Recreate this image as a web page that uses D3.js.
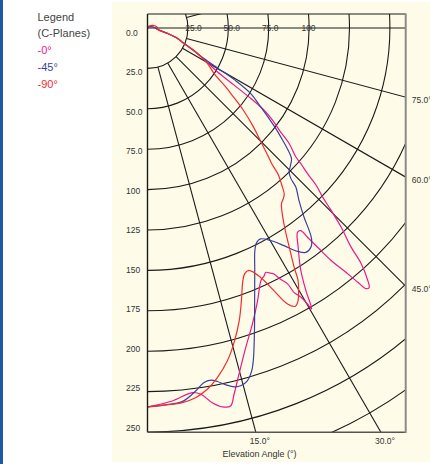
<!DOCTYPE html>
<meta charset="utf-8">
<style>
html, body {
  margin: 0;
  background: #fff;
}

.chart {
  display: block;
  font-family: "Liberation Sans", Arial, sans-serif;
}

.chart .grid circle,
.chart .grid line {
  fill: none;
  stroke: #1a1a1a;
  stroke-width: 1.1;
}

.chart .tick-label {
  font-size: 8.5px;
  fill: #333;
}

.chart .legend text {
  font-size: 11px;
}

.chart .curve {
  fill: none;
  stroke-width: 1.2;
  stroke-linejoin: round;
}
</style>
<body>
<svg class="chart js-chart"></svg>

<script src="https://d3js.org/d3.v7.min.js"></script>
<script>
"use strict";

// candela values per gamma angle, [angle (deg), value]
var plane0 = [
  [0, 234.5], [3.8, 231.3], [7, 227.3], [8.3, 229], [9.8, 235.3], [11.2, 239],
  [12.4, 239.5], [13.3, 232.9], [14.8, 221.6], [17.1, 206.8], [19.5, 194.4],
  [22, 181.9], [24.2, 171.3], [25.2, 169.5], [25.8, 168], [26.7, 169.9],
  [27.2, 171.2], [27.9, 176], [28.7, 180.5], [29, 187.2], [29.7, 191.8],
  [30.1, 197.6], [30.3, 201.4], [31.1, 189.8], [32.3, 177.6], [34.5, 164.6],
  [36.3, 156.8], [37.1, 157.2], [37.4, 163], [37.8, 171.7], [38.3, 183.3],
  [39, 193.3], [39.6, 204.2], [40, 210.6], [40.5, 211.2], [41.1, 207.4],
  [42.2, 196.9], [42.9, 185.1], [44.2, 171.8], [45.2, 160], [46, 150.7],
  [47, 142.7], [47.7, 133.9], [48.5, 126.7], [49, 121.7], [50.8, 113.1],
  [52, 104.6], [53.6, 96.1], [54.8, 88.3], [55.7, 77.4], [56.6, 64.2],
  [57.9, 51], [61, 40], [64.7, 30], [67.1, 24.4], [70.9, 19.5], [74.9, 12.7],
  [82.4, 6.1], [90, 5], [105, 3], [130, 1.2], [180, 0]
];

var plane45 = [
  [0, 234.5], [2.7, 233.5], [5.3, 232.2], [7.6, 226.5], [9, 222.2], [10.2, 221.4],
  [11.2, 223], [12.4, 226.1], [13.6, 228.5], [14.6, 228.8], [15.8, 226.9],
  [16.9, 221.8], [17.7, 215.5], [19.5, 198.3], [21.5, 180.9], [23.9, 163.8],
  [25.8, 152.7], [27, 148.9], [28.2, 148.1], [30.1, 152], [32.1, 159],
  [33.9, 166.5], [35.2, 169.9], [36.7, 169.2], [37.9, 165.3], [38.6, 160.4],
  [39.6, 152], [41.3, 142], [43, 134.6], [43.6, 128.7], [44.5, 125],
  [45.7, 123.3], [47.8, 120.3], [49, 115.3], [50.3, 108.7], [51.9, 100.9],
  [53.3, 93.8], [55.1, 85.4], [57.6, 75.7], [59.2, 63], [60.2, 50], [61.5, 40],
  [64.7, 30], [67.1, 24.4], [70.9, 19.5], [74.9, 12.7], [82.4, 6.1], [90, 5],
  [105, 3], [130, 1.2], [180, 0]
];

var plane90 = [
  [0, 234.5], [2.7, 233.5], [5.3, 232.8], [7.4, 230.7], [9.4, 226.6], [11.3, 220.6],
  [13.5, 211.8], [15.4, 201.8], [17.4, 189.8], [19, 178.5], [20.7, 167],
  [21.6, 163.5], [22.7, 162.6], [24.4, 169.5], [25.7, 180.4], [26.9, 191.5],
  [28, 195], [28.9, 192.8], [29.9, 187.5], [30.8, 182], [31.5, 173.7],
  [32.9, 161.5], [34.9, 147.5], [37.3, 136.8], [38.5, 135], [39.5, 133],
  [40.5, 128], [41.7, 121.8], [42.5, 113.7], [43.6, 107], [44.7, 100.5],
  [47, 89.5], [49.4, 78], [51.3, 68], [53, 60.6], [55.7, 49.8], [59.4, 43],
  [63.7, 33.2], [67.1, 24.4], [70.9, 19.5], [74.9, 12.7], [82.4, 6.3], [90, 6.4],
  [100, 5.6], [115, 3.8], [135, 2], [160, 0.7], [180, 0]
];

var seriesNames = ["-0°", "-45°", "-90°"];
var seriesColors = ["#e8198b", "#3d3f9c", "#f42a2f"];
var seriesData = [plane0, plane45, plane90];

var ringValues = [25, 50, 75, 100, 125, 150, 175, 200, 225, 250, 275, 300];
var spokeAngles = [15, 30, 45, 60, 75, 90, 105, 120, 135, 150, 165];
var leftTicks = [0, 25, 50, 75, 100, 125, 150, 175, 200, 225, 250];
var topTicks = [25, 50, 75, 100];
var sideAngles = [75, 60, 45];
var bottomAngles = [15, 30];
var legendTitle = ["Legend", "(C-Planes)"];

var width = 430, height = 464;
var origin = { x: 147.5, y: 28 };
var frame = { left: 147.5, top: 14, right: 405.7, bottom: 432.3 };

var rScale = d3.scaleLinear().domain([0, 250]).range([0, 404]);
// gamma 0 points straight down, 90 is horizontal
var aScale = d3.scaleLinear().domain([0, 180]).range([Math.PI, 0]);
var leftLabelScale = d3.scaleLinear().domain([0, 250]).range([32.7, 428]);
var topLabelScale = d3.scaleLinear().domain([25, 100]).range([193.5, 308.5]);

function fmtValue(v) { return v < 100 ? v.toFixed(1) : String(v); }
function fmtAngle(a) { return d3.format(".1f")(a) + "°"; }
function rad(deg) { return deg * Math.PI / 180; }

var svg = d3.select(".js-chart")
  .attr("width", width)
  .attr("height", height)
  .attr("viewBox", "0 0 " + width + " " + height);

svg.append("rect")
  .attr("x", 0).attr("y", 0)
  .attr("width", 3).attr("height", height)
  .attr("fill", "#1c5aa8");

svg.append("rect")
  .attr("x", 112).attr("y", 2)
  .attr("width", width - 112).attr("height", 460)
  .attr("fill", "#fefce9");

svg.append("clipPath")
  .attr("id", "plot-clip")
  .append("rect")
    .attr("x", frame.left).attr("y", frame.top)
    .attr("width", frame.right - frame.left)
    .attr("height", frame.bottom - frame.top);

var plot = svg.append("g")
  .attr("clip-path", "url(#plot-clip)")
  .append("g")
    .attr("transform", "translate(" + origin.x + "," + origin.y + ")");

var grid = plot.append("g").attr("class", "grid");

grid.selectAll("circle").data(ringValues)
  .enter().append("circle")
    .attr("r", rScale);

grid.selectAll("line").data(spokeAngles)
  .enter().append("line")
    .attr("x1", function (d) { return (d === 90 ? 0 : rScale(25)) * Math.sin(aScale(d)); })
    .attr("y1", function (d) { return -(d === 90 ? 0 : rScale(25)) * Math.cos(aScale(d)); })
    .attr("x2", function (d) { return rScale(400) * Math.sin(aScale(d)); })
    .attr("y2", function (d) { return -rScale(400) * Math.cos(aScale(d)); });

var radial = d3.lineRadial()
  .angle(function (d) { return aScale(d[0]); })
  .radius(function (d) { return rScale(d[1]); })
  .curve(d3.curveCatmullRom.alpha(0.5));

plot.selectAll(".curve").data(seriesData)
  .enter().append("path")
    .attr("class", "curve")
    .attr("stroke", function (d, i) { return seriesColors[i]; })
    .attr("d", radial);

// frame
svg.append("line")
  .attr("x1", frame.left).attr("y1", frame.top)
  .attr("x2", frame.right).attr("y2", frame.top)
  .attr("stroke", "#1a1a1a").attr("stroke-width", 1.1);
svg.append("line")
  .attr("x1", frame.left).attr("y1", frame.top)
  .attr("x2", frame.left).attr("y2", frame.bottom)
  .attr("stroke", "#1a1a1a").attr("stroke-width", 1.4);
svg.append("line")
  .attr("x1", frame.left).attr("y1", frame.bottom)
  .attr("x2", frame.right).attr("y2", frame.bottom)
  .attr("stroke", "#555").attr("stroke-width", 1.6);
svg.append("line")
  .attr("x1", frame.right).attr("y1", frame.top - 0.5)
  .attr("x2", frame.right).attr("y2", frame.bottom + 0.8)
  .attr("stroke", "#8a8a8a").attr("stroke-width", 2);

// value labels
svg.selectAll(".left-label").data(leftTicks)
  .enter().append("text")
    .attr("class", "tick-label left-label")
    .attr("x", 126)
    .attr("y", leftLabelScale)
    .attr("dy", "0.35em")
    .text(fmtValue);

svg.selectAll(".top-label").data(topTicks)
  .enter().append("text")
    .attr("class", "tick-label top-label")
    .attr("x", topLabelScale)
    .attr("y", origin.y)
    .attr("dy", "0.35em")
    .attr("text-anchor", "middle")
    .text(fmtValue);

// angle labels
svg.selectAll(".side-label").data(sideAngles)
  .enter().append("text")
    .attr("class", "tick-label side-label")
    .attr("x", frame.right + 6)
    .attr("y", function (d) { return origin.y + (frame.right - origin.x) / Math.tan(rad(d)) + 2.5; })
    .attr("dy", "0.35em")
    .text(fmtAngle);

svg.selectAll(".bottom-label").data(bottomAngles)
  .enter().append("text")
    .attr("class", "tick-label bottom-label")
    .attr("x", function (d) { return origin.x + (frame.bottom - origin.y) * Math.tan(rad(d)) + 4; })
    .attr("y", 441)
    .attr("dy", "0.35em")
    .attr("text-anchor", "middle")
    .text(fmtAngle);

svg.append("text")
  .attr("class", "tick-label")
  .attr("x", 259.5)
  .attr("y", 453.7)
  .attr("dy", "0.35em")
  .attr("text-anchor", "middle")
  .style("font-size", "9px")
  .text("Elevation Angle (°)");

// legend
var legend = svg.append("g").attr("class", "legend");
var legendRows = legendTitle.concat(seriesNames);

legend.selectAll("text").data(legendRows)
  .enter().append("text")
    .attr("x", 37.5)
    .attr("y", function (d, i) { return 16.8 + i * 16.8; })
    .attr("dy", "0.35em")
    .attr("fill", function (d, i) { return i < 2 ? "#444" : seriesColors[i - 2]; })
    .text(String);
</script>
</body>
